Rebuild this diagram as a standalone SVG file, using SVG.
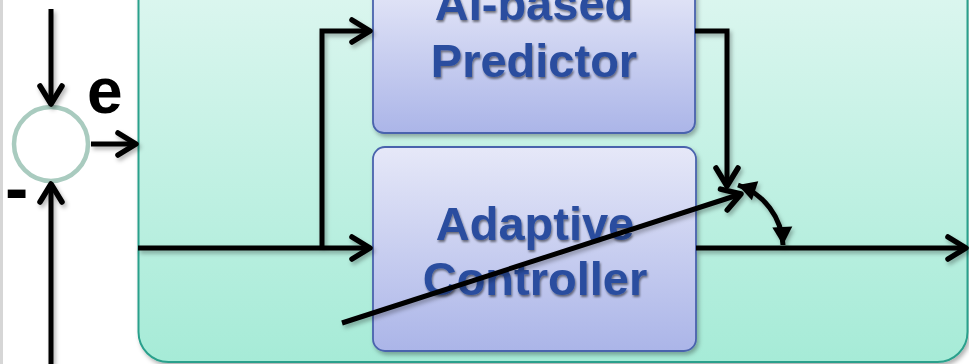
<svg xmlns="http://www.w3.org/2000/svg" width="969" height="364" viewBox="0 0 969 364">
<defs>
<linearGradient id="gCont" x1="0" y1="0" x2="0" y2="1">
<stop offset="0" stop-color="#e0f7f1"/>
<stop offset="1" stop-color="#a6ebd7"/>
</linearGradient>
<linearGradient id="gBox" x1="0" y1="0" x2="0" y2="1">
<stop offset="0" stop-color="#e6e8f8"/>
<stop offset="1" stop-color="#abb5e8"/>
</linearGradient>
<filter id="sh" x="-20%" y="-20%" width="140%" height="140%">
<feDropShadow dx="2" dy="3" stdDeviation="2" flood-color="#000" flood-opacity="0.3"/>
</filter>
<filter id="tsh" x="-10%" y="-10%" width="120%" height="130%">
<feDropShadow dx="1" dy="2" stdDeviation="1" flood-color="#000" flood-opacity="0.5"/>
</filter>
<marker id="open" markerUnits="userSpaceOnUse" markerWidth="40" markerHeight="40" viewBox="-25 -20 30 40" refX="0" refY="0" orient="auto" overflow="visible">
<path d="M-18,-11 L0,0 L-18,11" fill="none" stroke="#000" stroke-width="5.5" stroke-linecap="round" stroke-linejoin="round"/>
</marker>
<marker id="fill" markerUnits="userSpaceOnUse" markerWidth="40" markerHeight="40" viewBox="-25 -20 30 40" refX="0" refY="0" orient="auto-start-reverse" overflow="visible">
<path d="M-18,-10 L0,0 L-18,10 Z" fill="#000"/>
</marker>
</defs>
<style>
.ln{fill:none;stroke:#000;stroke-width:5;stroke-linejoin:miter}
.box{fill:url(#gBox);stroke:#4a63ad;stroke-width:1.8}
.lbl{font-family:"Liberation Sans",Arial,sans-serif;font-weight:bold;font-size:47px;fill:#2a4d9f;text-anchor:middle}
.sym{font-family:"Liberation Sans",Arial,sans-serif;font-weight:bold;fill:#000}
</style>
<rect x="0" y="0" width="969" height="364" fill="#ffffff"/>
<rect x="0" y="0" width="3" height="364" fill="#d6d6d6"/>
<g id="container">
<rect x="138.5" y="-40" width="829" height="402" rx="30" fill="url(#gCont)" stroke="#2aa08c" stroke-width="2" filter="url(#sh)"/>
</g>
<g id="sum">
<circle cx="51" cy="144" r="37" fill="#ffffff" stroke="#a9cbbf" stroke-width="4.5"/>
</g>
<g id="labels">
<text class="sym" x="87" y="113" font-size="64">e</text>
<text class="sym" x="5" y="212" font-size="70">-</text>
</g>
<g id="predictor">
<rect class="box" x="373" y="-20" width="322" height="153" rx="11" filter="url(#sh)"/>
<text class="lbl" x="534" y="20" filter="url(#tsh)">AI-based</text>
<text class="lbl" x="534" y="77" filter="url(#tsh)">Predictor</text>
</g>
<g id="controller">
<rect class="box" x="373" y="147" width="323" height="204" rx="12" filter="url(#sh)"/>
<text class="lbl" x="535" y="240" filter="url(#tsh)">Adaptive</text>
<text class="lbl" x="535" y="295" filter="url(#tsh)">Controller</text>
</g>
<g id="connectors" filter="url(#sh)">
<path class="ln" d="M51,9 L51,104" marker-end="url(#open)"/>
<path class="ln" d="M51,364 L51,184" marker-end="url(#open)"/>
<path class="ln" d="M91,144 L136,144" marker-end="url(#open)"/>
<path class="ln" d="M138,248 L370,248" marker-end="url(#open)"/>
<path class="ln" d="M322,248 L322,31 L370,31" marker-end="url(#open)"/>
<path class="ln" d="M695,31 L727,31 L727,186" marker-end="url(#open)"/>
<path class="ln" d="M342,323 L741,194" marker-end="url(#open)"/>
<path class="ln" d="M696,248 L966,248" marker-end="url(#open)"/>
<path class="ln" d="M738,185 A66,66 0 0 1 783,245" stroke-width="4" marker-start="url(#fill)" marker-end="url(#fill)"/>
</g>
</svg>
